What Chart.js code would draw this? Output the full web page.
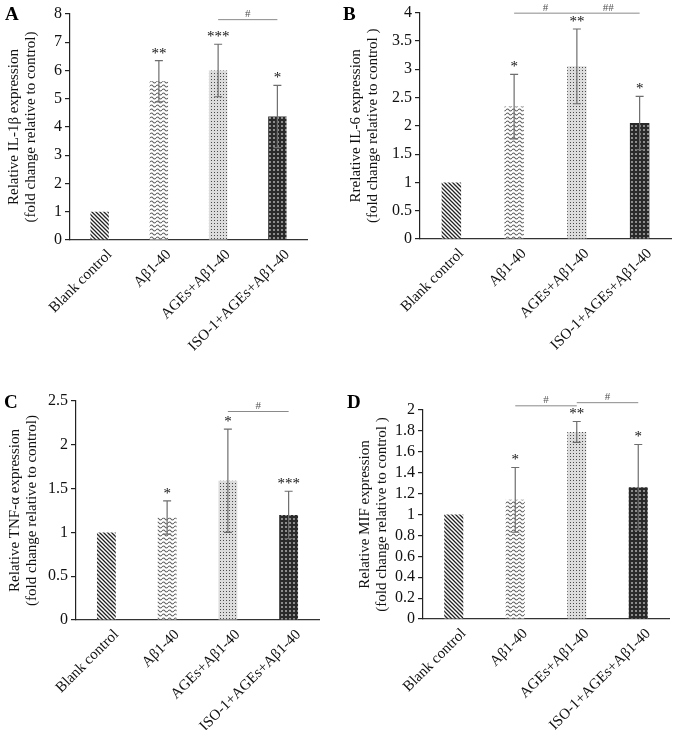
<!DOCTYPE html>
<html>
<head>
<meta charset="utf-8">
<script src="https://cdn.jsdelivr.net/npm/chart.js@4.4.1/dist/chart.umd.min.js"></script>
<style>
  body { margin: 0; background: #fff; width: 677px; height: 730px; position: relative; overflow: hidden; }
  canvas { position: absolute; }
</style>
</head>
<body>
<canvas id="graficoA" width="338" height="365" style="left:0;top:0"></canvas>
<canvas id="graficoB" width="339" height="365" style="left:338px;top:0"></canvas>
<canvas id="graficoC" width="338" height="365" style="left:0;top:365px"></canvas>
<canvas id="graficoD" width="339" height="365" style="left:338px;top:365px"></canvas>
<script>
const grupos = ['Blank control', 'Aβ1-40', 'AGEs+Aβ1-40', 'ISO-1+AGEs+Aβ1-40']

// A - IL-1β
const il1b = [1, 5.62, 6.0, 4.37]
const il1bError = [0, 0.73, 0.93, 1.1]
const il1bEstrellas = ['', '**', '***', '*']
const il1bMarcas = [[2, 3, 7.8, '#']]

// B - IL-6
const il6 = [1, 2.34, 3.05, 2.05]
const il6Error = [0, 0.57, 0.66, 0.47]
const il6Estrellas = ['', '*', '**', '*']
const il6Marcas = [[1, 2, 3.99, '#'], [2, 3, 3.99, '##']]

// C - TNF-α
const tnf = [1, 1.17, 1.59, 1.2]
const tnfError = [0, 0.19, 0.59, 0.27]
const tnfEstrellas = ['', '*', '*', '***']
const tnfMarcas = [[2, 3, 2.38, '#']]

// D - MIF
const mif = [1, 1.14, 1.79, 1.26]
const mifError = [0, 0.31, 0.1, 0.41]
const mifEstrellas = ['', '*', '**', '*']
const mifMarcas = [[1, 2, 2.04, '#'], [2, 3, 2.07, '#']]

const serif = '"Liberation Serif", "Times New Roman", serif'
Chart.defaults.font.family = serif
Chart.defaults.color = '#111'

// patrones de relleno
const patron = (w, h, dibujar) => {
    const c = document.createElement('canvas')
    c.width = w; c.height = h
    const g = c.getContext('2d')
    dibujar(g, w, h)
    return g.createPattern(c, 'repeat')
}

const rayas = patron(4, 4, (g, w, h) => {
    g.fillStyle = '#fff'; g.fillRect(0, 0, w, h)
    g.strokeStyle = '#222'; g.lineWidth = 1.3
    g.beginPath()
    g.moveTo(-1, -1); g.lineTo(w + 1, h + 1)
    g.moveTo(-1, h - 1); g.lineTo(1, h + 1)
    g.moveTo(w - 1, -1); g.lineTo(w + 1, 1)
    g.stroke()
})
const ondas = patron(6, 4, (g, w, h) => {
    g.fillStyle = '#fff'; g.fillRect(0, 0, w, h)
    g.strokeStyle = '#5e5e5e'; g.lineWidth = 1.1
    g.beginPath()
    g.moveTo(0, 2)
    g.quadraticCurveTo(1.5, 0, 3, 2)
    g.quadraticCurveTo(4.5, 4, 6, 2)
    g.stroke()
})
const puntosClaros = patron(3, 3, (g, w, h) => {
    g.fillStyle = '#dcdcdc'; g.fillRect(0, 0, w, h)
    g.fillStyle = '#4a4a4a'; g.fillRect(1, 1, 1, 1)
})
const puntosOscuros = patron(4, 4, (g, w, h) => {
    g.fillStyle = '#2a2a2a'; g.fillRect(0, 0, w, h)
    g.fillStyle = '#8c8c8c'; g.fillRect(1, 1, 2, 2)
})
const rellenos = [rayas, ondas, puntosClaros, puntosOscuros]

const crearGrafico = (id, valores, errores, estrellas, marcas, titulo, ejeY, caja, letra) => {
    const decorar = {
        id: 'decorar',
        afterDatasetsDraw(chart) {
            const ctx = chart.ctx
            const y = chart.scales.y
            const barras = chart.getDatasetMeta(0).data
            ctx.save()
            // barras de error
            ctx.strokeStyle = '#6e6e6e'
            ctx.lineWidth = 1.2
            valores.forEach((v, i) => {
                if (!errores[i]) return
                const cx = barras[i].x
                const arriba = y.getPixelForValue(v + errores[i])
                const abajo = y.getPixelForValue(v - errores[i])
                ctx.beginPath()
                ctx.moveTo(cx, arriba); ctx.lineTo(cx, abajo)
                ctx.moveTo(cx - 4, arriba); ctx.lineTo(cx + 4, arriba)
                ctx.moveTo(cx - 4, abajo); ctx.lineTo(cx + 4, abajo)
                ctx.stroke()
            })
            // asteriscos
            ctx.fillStyle = '#111'
            ctx.font = '15px ' + serif
            ctx.textAlign = 'center'
            ctx.textBaseline = 'alphabetic'
            valores.forEach((v, i) => {
                if (!estrellas[i]) return
                ctx.fillText(estrellas[i], barras[i].x, y.getPixelForValue(v + errores[i]) - 3)
            })
            // comparaciones #
            ctx.strokeStyle = '#8a8a8a'
            ctx.lineWidth = 1
            ctx.fillStyle = '#555'
            ctx.font = '11px ' + serif
            marcas.forEach(([a, b, nivel, txt]) => {
                const x1 = barras[a].x, x2 = barras[b].x
                const yy = y.getPixelForValue(nivel)
                ctx.beginPath(); ctx.moveTo(x1, yy); ctx.lineTo(x2, yy); ctx.stroke()
                ctx.fillText(txt, (x1 + x2) / 2, yy - 2.5)
            })
            // letra del panel
            ctx.fillStyle = '#000'
            ctx.textAlign = 'left'
            ctx.font = 'bold 19px ' + serif
            ctx.fillText(letra[0], letra[1], letra[2])
            ctx.restore()
        }
    }

    return new Chart(document.getElementById(id), {
        type: 'bar',
        data: {
            labels: grupos,
            datasets: [{
                data: valores,
                backgroundColor: rellenos,
                borderWidth: 0,
                barPercentage: 0.31,
                categoryPercentage: 1
            }]
        },
        options: {
            responsive: false,
            animation: false,
            events: [],
            layout: { padding: { top: caja.arriba, right: caja.derecha, left: 0, bottom: 0 } },
            plugins: { legend: { display: false }, tooltip: { enabled: false } },
            scales: {
                x: {
                    grid: { display: false, drawTicks: false },
                    border: { display: true, color: '#333', width: 1.2 },
                    ticks: { minRotation: 45, maxRotation: 45, autoSkip: false, padding: 6, labelOffset: 10, font: { size: 15 }, color: '#111' },
                    afterFit: (s) => { s.height = caja.alto }
                },
                y: {
                    min: 0,
                    max: ejeY[0],
                    ticks: {
                        stepSize: ejeY[1],
                        autoSkip: false,
                        padding: 3,
                        font: { size: 16 },
                        color: '#111',
                        callback: (v) => String(Math.round(v * 10) / 10)
                    },
                    grid: { drawOnChartArea: false, drawTicks: true, tickLength: 5, color: '#222', lineWidth: 1.2 },
                    border: { display: true, color: '#222', width: 1.2 },
                    title: {
                        display: true,
                        text: titulo,
                        font: { size: 15, lineHeight: 1.15 },
                        color: '#111',
                        padding: { top: caja.titulo, bottom: 0 }
                    },
                    afterFit: (s) => { s.width = caja.ancho }
                }
            }
        },
        plugins: [decorar]
    })
}

crearGrafico('graficoA', il1b, il1bError, il1bEstrellas, il1bMarcas,
    ['Relative IL-1β expression', '(fold change relative to control)'], [8, 1],
    { arriba: 14, derecha: 31, alto: 125, ancho: 70, titulo: 5 }, ['A', 5, 20])

crearGrafico('graficoB', il6, il6Error, il6Estrellas, il6Marcas,
    ['Rrelative IL-6 expression', '(fold change relative to control )'], [4, 0.5],
    { arriba: 12, derecha: 6, alto: 126, ancho: 82, titulo: 9 }, ['B', 5, 20])

crearGrafico('graficoC', tnf, tnfError, tnfEstrellas, tnfMarcas,
    ['Relative TNF-α expression', '(fold change relative to control)'], [2.5, 0.5],
    { arriba: 36, derecha: 19, alto: 110, ancho: 76, titulo: 6 }, ['C', 4, 43])

crearGrafico('graficoD', mif, mifError, mifEstrellas, mifMarcas,
    ['Relative MIF expression', '(fold change relative to control )'], [2, 0.2],
    { arriba: 45, derecha: 8, alto: 111, ancho: 85, titulo: 18 }, ['D', 9, 43])
</script>
</body>
</html>
